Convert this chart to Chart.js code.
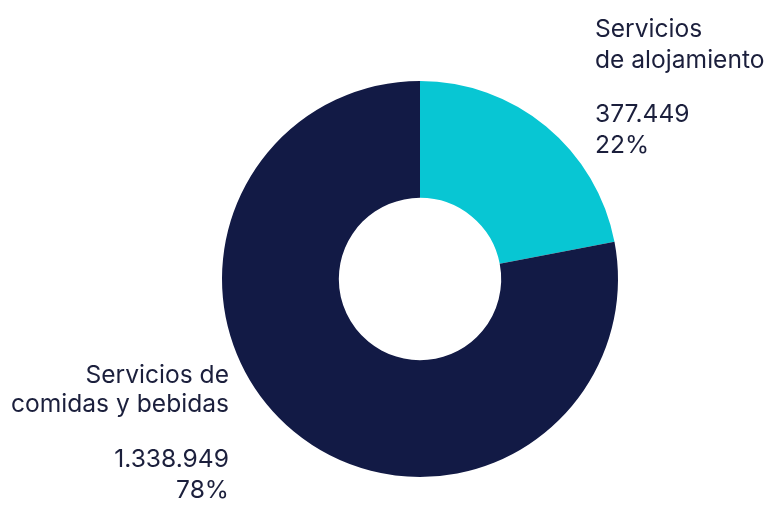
<!DOCTYPE html>
<html>
<head>
<meta charset="utf-8">
<script src="https://cdn.jsdelivr.net/npm/chart.js@4"></script>
<style>
html,body{margin:0;padding:0;background:#fff;}
#wrap{width:782px;height:532px;position:relative;}
</style>
</head>
<body>
<div id="wrap"><canvas id="c" width="782" height="532"></canvas></div>
<script>
const categories = ["Servicios de alojamiento", "Servicios de comidas y bebidas"];
const values = [377449, 1338949];
const valueLabels = ["377.449", "1.338.949"];
const percentLabels = ["22%", "78%"];
const nameLines = [["Servicios", "de alojamiento"], ["Servicios de", "comidas y bebidas"]];
const colors = ["#08c6d3", "#121a45"];
const textColor = "#1b1f3c";

const labelPlugin = {
  id: 'sideLabels',
  afterDraw(chart) {
    const ctx = chart.ctx;
    const a = chart.chartArea;
    ctx.save();
    ctx.fillStyle = textColor;
    ctx.font = '400 24.6px Inter, "Open Sans", sans-serif';
    ctx.textBaseline = 'alphabetic';
    // right label (first category)
    ctx.textAlign = 'left';
    let x = a.right - 23;
    const rLines = [nameLines[0][0], nameLines[0][1], valueLabels[0], percentLabels[0]];
    const rBase = [a.top - 44, a.top - 13, a.top + 41, a.top + 72];
    rLines.forEach((t, i) => ctx.fillText(t, x, rBase[i]));
    // left label (second category)
    ctx.textAlign = 'right';
    x = a.left + 7;
    const lLines = [nameLines[1][0], nameLines[1][1], valueLabels[1], percentLabels[1]];
    const lBase = [a.top + 302, a.top + 331, a.top + 386, a.top + 417];
    lLines.forEach((t, i) => ctx.fillText(t, x, lBase[i]));
    ctx.restore();
  }
};

new Chart(document.getElementById('c'), {
  type: 'doughnut',
  data: {
    labels: categories,
    datasets: [{
      data: values,
      backgroundColor: colors,
      borderWidth: 0,
      hoverOffset: 0
    }]
  },
  options: {
    responsive: false,
    animation: false,
    cutout: '41%',
    layout: { padding: { left: 222, right: 164, top: 81, bottom: 55 } },
    plugins: { legend: { display: false }, tooltip: { enabled: false } }
  },
  plugins: [labelPlugin]
});
</script>
</body>
</html>
